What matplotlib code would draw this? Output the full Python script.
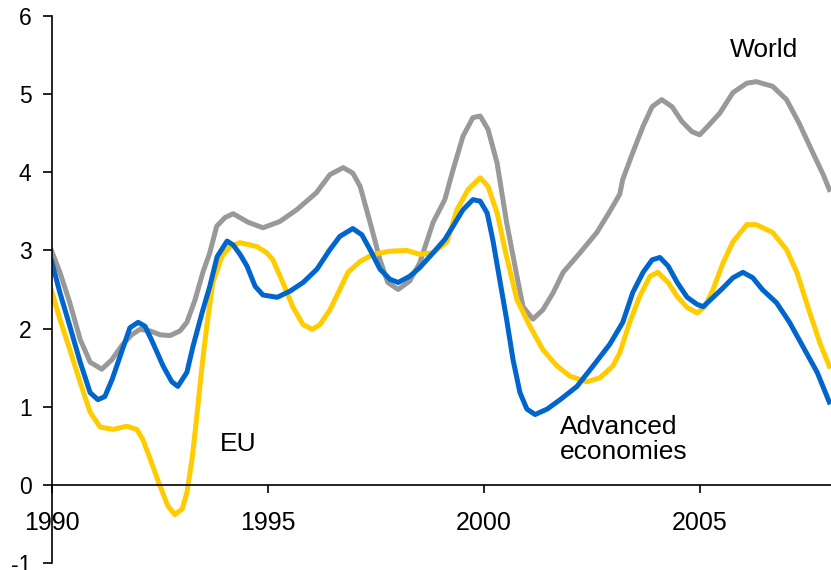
import matplotlib
matplotlib.use("Agg")
import matplotlib.pyplot as plt

plt.rcParams['font.family'] = ['Liberation Sans', 'DejaVu Sans']
plt.rcParams['axes.unicode_minus'] = False

# World
world_years = [1990.0, 1990.19, 1990.42, 1990.66, 1990.89, 1991.16, 1991.39, 1991.62, 1991.85, 1992.04,
               1992.28, 1992.51, 1992.74, 1992.97, 1993.13, 1993.32, 1993.50, 1993.66, 1993.82, 1994.01,
               1994.20, 1994.55, 1994.89, 1995.28, 1995.67, 1996.13, 1996.44, 1996.75, 1996.97, 1997.14,
               1997.37, 1997.60, 1997.78, 1998.02, 1998.29, 1998.52, 1998.83, 1999.10, 1999.29, 1999.52,
               1999.75, 1999.92, 2000.10, 2000.31, 2000.53, 2000.77, 2000.91, 2001.14, 2001.37, 2001.61,
               2001.84, 2002.23, 2002.62, 2002.92, 2003.15, 2003.22, 2003.45, 2003.69, 2003.90, 2004.12,
               2004.36, 2004.59, 2004.82, 2005.00, 2005.19, 2005.47, 2005.77, 2006.09, 2006.31, 2006.69,
               2007.01, 2007.30, 2007.62, 2007.86, 2008.0]
world = [2.99, 2.72, 2.33, 1.86, 1.57, 1.48, 1.60, 1.78, 1.92, 1.99,
         1.97, 1.92, 1.91, 1.97, 2.08, 2.37, 2.72, 2.97, 3.31, 3.42,
         3.47, 3.36, 3.29, 3.37, 3.52, 3.74, 3.97, 4.06, 3.99, 3.82,
         3.36, 2.88, 2.59, 2.50, 2.61, 2.84, 3.36, 3.65, 4.03, 4.46,
         4.70, 4.72, 4.55, 4.12, 3.36, 2.67, 2.28, 2.12, 2.24, 2.46,
         2.72, 2.97, 3.23, 3.50, 3.72, 3.91, 4.25, 4.59, 4.84, 4.93,
         4.84, 4.65, 4.52, 4.48, 4.59, 4.76, 5.02, 5.14, 5.16, 5.10,
         4.93, 4.63, 4.25, 3.97, 3.78]

# EU
eu_years = [1990.0, 1990.19, 1990.42, 1990.66, 1990.89, 1991.12, 1991.42, 1991.74, 1991.97, 1992.11,
            1992.28, 1992.51, 1992.69, 1992.85, 1993.02, 1993.13, 1993.25, 1993.36, 1993.48, 1993.59,
            1993.73, 1993.94, 1994.13, 1994.36, 1994.75, 1994.98, 1995.12, 1995.35, 1995.58, 1995.82,
            1996.03, 1996.21, 1996.44, 1996.67, 1996.86, 1997.14, 1997.44, 1997.83, 1998.22, 1998.52,
            1998.83, 1999.15, 1999.38, 1999.64, 1999.92, 2000.10, 2000.31, 2000.53, 2000.77, 2001.07,
            2001.37, 2001.70, 2002.00, 2002.39, 2002.69, 2002.99, 2003.15, 2003.38, 2003.61, 2003.85,
            2004.03, 2004.27, 2004.48, 2004.71, 2004.94, 2005.12, 2005.31, 2005.54, 2005.77, 2006.09,
            2006.31, 2006.69, 2007.01, 2007.25, 2007.55, 2007.78, 2008.0]
eu = [2.48, 2.12, 1.73, 1.31, 0.93, 0.74, 0.71, 0.75, 0.71, 0.58,
      0.33, -0.02, -0.27, -0.38, -0.31, -0.10, 0.33, 0.88, 1.52, 2.03,
      2.59, 2.92, 3.05, 3.10, 3.05, 2.97, 2.88, 2.59, 2.28, 2.05,
      1.99, 2.05, 2.24, 2.50, 2.72, 2.86, 2.95, 2.99, 3.00, 2.95,
      2.97, 3.11, 3.52, 3.78, 3.93, 3.82, 3.48, 2.92, 2.37, 2.03,
      1.73, 1.52, 1.39, 1.32, 1.37, 1.52, 1.69, 2.08, 2.41, 2.67,
      2.72, 2.59, 2.41, 2.27, 2.20, 2.28, 2.50, 2.84, 3.11, 3.33,
      3.33, 3.23, 3.01, 2.72, 2.20, 1.82, 1.52]

# Advanced economies
adv_years = [1990.0, 1990.19, 1990.42, 1990.66, 1990.89, 1991.07, 1991.23, 1991.40, 1991.58, 1991.81,
             1992.00, 1992.16, 1992.34, 1992.58, 1992.78, 1992.92, 1993.13, 1993.27, 1993.48, 1993.66,
             1993.83, 1994.06, 1994.20, 1994.36, 1994.52, 1994.71, 1994.89, 1995.22, 1995.52, 1995.82,
             1996.14, 1996.44, 1996.67, 1996.97, 1997.18, 1997.37, 1997.60, 1997.83, 1998.02, 1998.29,
             1998.52, 1998.83, 1999.10, 1999.29, 1999.52, 1999.75, 1999.92, 2000.08, 2000.21, 2000.37,
             2000.53, 2000.68, 2000.84, 2001.00, 2001.19, 2001.47, 2001.77, 2002.16, 2002.53, 2002.92,
             2003.22, 2003.45, 2003.69, 2003.90, 2004.08, 2004.27, 2004.48, 2004.71, 2004.94, 2005.08,
             2005.31, 2005.54, 2005.77, 2006.00, 2006.23, 2006.45, 2006.78, 2007.08, 2007.39, 2007.72,
             2008.0]
adv = [2.86, 2.46, 2.03, 1.57, 1.18, 1.09, 1.13, 1.35, 1.64, 2.01,
       2.08, 2.03, 1.82, 1.52, 1.32, 1.26, 1.44, 1.77, 2.20, 2.54,
       2.92, 3.12, 3.07, 2.95, 2.80, 2.54, 2.43, 2.40, 2.48, 2.59,
       2.76, 3.01, 3.18, 3.28, 3.20, 3.01, 2.76, 2.63, 2.59, 2.67,
       2.78, 2.97, 3.14, 3.31, 3.52, 3.65, 3.63, 3.48, 3.14, 2.63,
       2.12, 1.60, 1.18, 0.97, 0.90, 0.97, 1.09, 1.26, 1.52, 1.80,
       2.08, 2.46, 2.72, 2.88, 2.91, 2.80, 2.59, 2.40, 2.31, 2.28,
       2.40, 2.52, 2.65, 2.72, 2.65, 2.50, 2.33, 2.08, 1.77, 1.44,
       1.06]

x_ticks = [1990, 1995, 2000, 2005]
y_ticks = [-1, 0, 1, 2, 3, 4, 5, 6]

fig = plt.figure(figsize=(8.31, 5.70), dpi=100)
ax = fig.add_axes([0.0622, 0.0123, 0.9378, 0.9596])

ax.plot(world_years, world, color='#999999', lw=3.6, solid_joinstyle='round')
ax.plot(eu_years, eu, color='#FFCC00', lw=3.6, solid_joinstyle='round')
ax.plot(adv_years, adv, color='#0066CC', lw=3.6, solid_joinstyle='round')

ax.set_xlim(1990, 2008.04)
ax.set_ylim(-1, 6)
ax.spines['top'].set_visible(False)
ax.spines['right'].set_visible(False)
ax.spines['bottom'].set_position(('data', 0))
ax.spines['left'].set_linewidth(1.2)
ax.spines['bottom'].set_linewidth(1.2)

ax.set_xticks(x_ticks)
ax.set_xticklabels([str(t) for t in x_ticks])
ax.set_yticks(y_ticks)
ax.tick_params(axis='x', direction='out', length=6, width=1.2, pad=13, labelsize=18)
ax.tick_params(axis='y', direction='out', length=6.5, width=1.2, pad=8, labelsize=16.5)

ax.text(2005.70, 5.57, 'World', fontsize=19, va='center', ha='left')
ax.text(1993.90, 0.52, 'EU', fontsize=19, va='center', ha='left')
ax.text(2001.77, 0.90, 'Advanced\neconomies', fontsize=19, va='top', ha='left', linespacing=1.08)

fig.savefig('out.png', dpi=100)
